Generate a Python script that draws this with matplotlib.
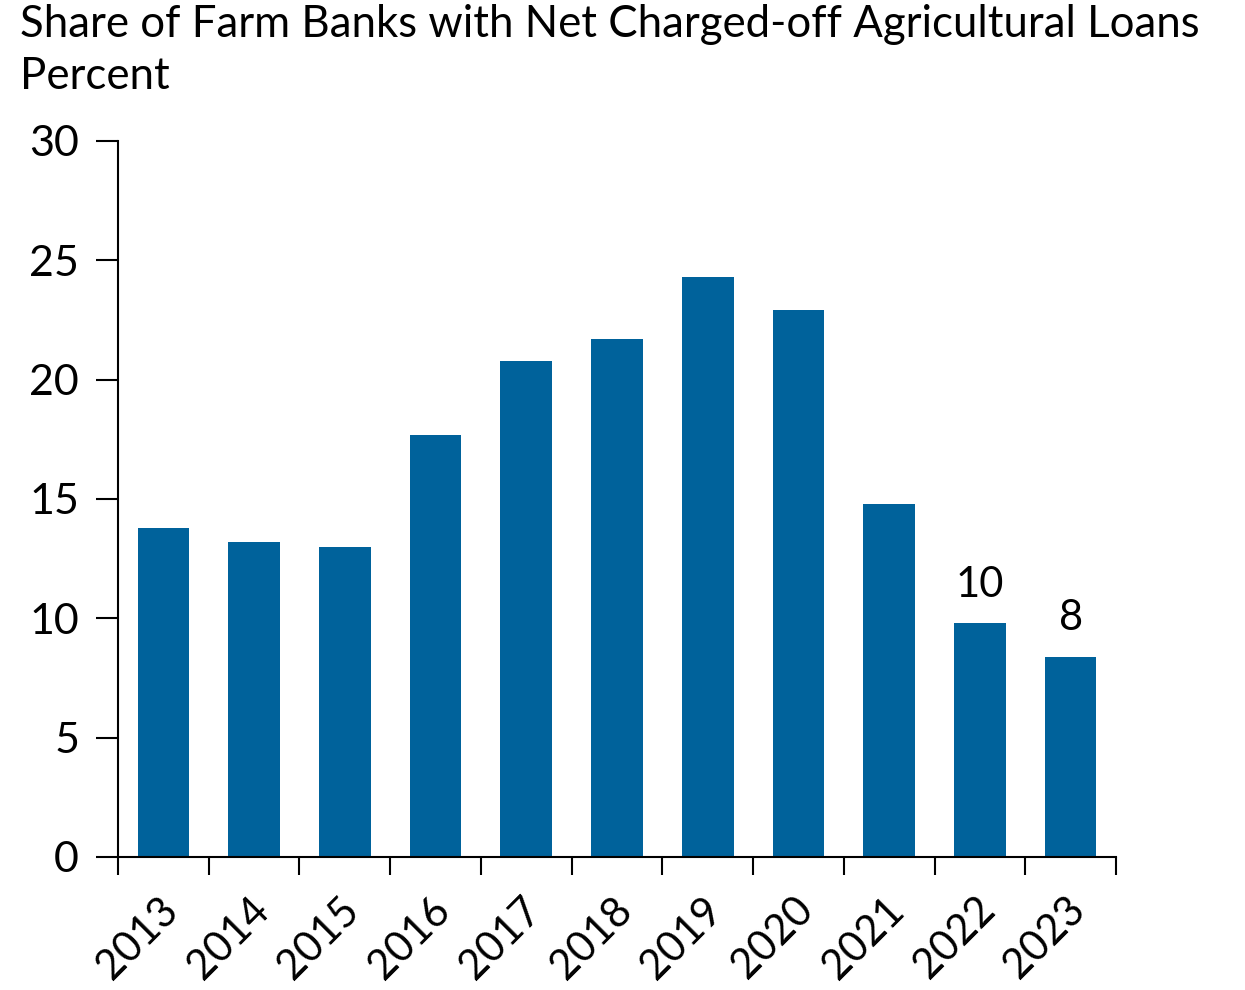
import numpy as np
import matplotlib.pyplot as plt
import matplotlib.transforms as mtransforms

plt.rcParams['font.family'] = ['Lato', 'DejaVu Sans']

years = ['2013', '2014', '2015', '2016', '2017', '2018', '2019', '2020', '2021', '2022', '2023']
share = [13.8, 13.2, 13.0, 17.7, 20.8, 21.7, 24.3, 22.9, 14.8, 9.8, 8.4]
labels = {'2022': '10', '2023': '8'}

bar_color = '#00629b'

fig = plt.figure(figsize=(12.45, 9.9), dpi=100)
ax = fig.add_axes([118/1245, 1-857/990, (1116-118)/1245, (857-141)/990])

x = np.arange(len(years))
ax.bar(x, share, width=0.57, color=bar_color)
for i, yr in enumerate(years):
  if yr in labels:
    ax.text(x[i], share[i] + 0.8, labels[yr], ha='center', va='bottom', fontsize=30)

ax.set_xlim(-0.5, len(years) - 0.5)
ax.set_ylim(0, 30)
ax.set_yticks(np.arange(0, 31, 5))
ax.set_xticks(np.arange(-0.5, len(years), 1), minor=False)
ax.set_xticklabels([])
ax.set_xticks(x, minor=True)
ax.set_xticklabels(years, minor=True, rotation=45, ha='right', rotation_mode='anchor', fontsize=30)
ax.tick_params(axis='x', which='minor', length=0, pad=24)
ax.tick_params(axis='x', which='major', length=13, width=1.5, direction='out')
ax.tick_params(axis='y', length=16, width=1.5, labelsize=31, pad=12)
# nudge year labels, like the original
offset = mtransforms.ScaledTranslation(-5/100, 0, fig.dpi_scale_trans)
for lbl in ax.get_xticklabels(minor=True):
  lbl.set_transform(lbl.get_transform() + offset)
for s in ['top', 'right']:
  ax.spines[s].set_visible(False)
for s in ['left', 'bottom']:
  ax.spines[s].set_linewidth(1.5)

fig.text(20/1245, 1-4/990, 'Share of Farm Banks with Net Charged-off Agricultural Loans', ha='left', va='top', fontsize=31.5)
fig.text(20/1245, 1-56/990, 'Percent', ha='left', va='top', fontsize=31.5)

plt.savefig('out.png', facecolor='white')
